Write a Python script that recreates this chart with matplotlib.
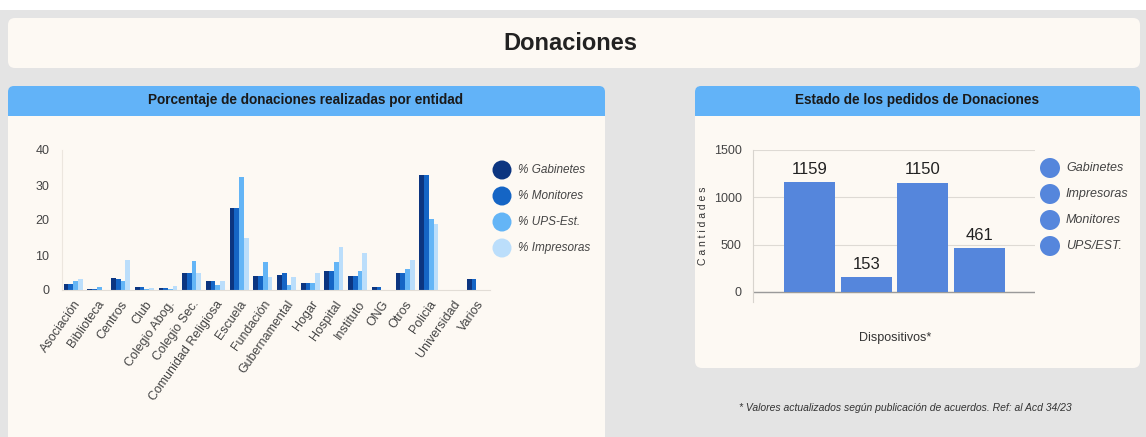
import numpy as np
import matplotlib
matplotlib.use("Agg")
import matplotlib.pyplot as plt
from matplotlib.patches import FancyBboxPatch, Rectangle, Circle

plt.rcParams['font.family'] = ['Liberation Sans Narrow', 'Liberation Sans', 'DejaVu Sans']

# porcentaje de donaciones por entidad
entidades = ["Asociación", "Biblioteca", "Centros", "Club", "Colegio Abog.", "Colegio Sec.",
             "Comunidad Religiosa", "Escuela", "Fundación", "Gubernamental", "Hogar",
             "Hospital", "Instituto", "ONG", "Otros", "Policia", "Universidad", "Varios"]
series_pct = ["% Gabinetes", "% Monitores", "% UPS-Est.", "% Impresoras"]
pct_gabinetes = [1.6, 0.3, 3.5, 1.0, 0.7, 5.0, 2.5, 23.5, 4.1, 4.4, 1.9, 5.3, 4.1, 1.0, 4.8, 32.8, 0.0, 3.1]
pct_monitores = [1.6, 0.3, 3.2, 1.0, 0.7, 5.0, 2.5, 23.5, 4.1, 4.8, 1.9, 5.3, 4.1, 1.0, 4.8, 33.0, 0.0, 3.1]
pct_ups = [2.6, 1.0, 2.6, 0.3, 0.3, 8.3, 1.5, 32.4, 7.9, 1.5, 1.9, 7.9, 5.3, 0.0, 6.0, 20.3, 0.0, 0.0]
pct_impresoras = [3.1, 0.0, 8.6, 0.5, 1.2, 5.0, 2.5, 14.9, 3.7, 3.7, 5.0, 12.3, 10.5, 0.0, 8.6, 19.0, 0.0, 0.0]
colores_pct = ["#0c3580", "#1565c5", "#64b5f6", "#bbdefb"]

# estado de los pedidos
dispositivos = ["Gabinetes", "Impresoras", "Monitores", "UPS/EST."]
cantidades = [1159, 153, 1150, 461]
color_pedidos = "#5586dc"

W, H = 1146, 437
GRIS = "#e4e4e4"
CREMA = "#fdf9f3"
AZUL = "#62b3f8"
TEXTO = "#444444"


def caja(x0, y0, x1, y1):
    return [x0 / W, 1 - y1 / H, (x1 - x0) / W, (y1 - y0) / H]


fig = plt.figure(figsize=(W / 100, H / 100), dpi=100)
fondo = fig.add_axes([0, 0, 1, 1])
fondo.set_xlim(0, W)
fondo.set_ylim(H, 0)
fondo.axis('off')

fondo.add_patch(Rectangle((0, 10), W, H, color=GRIS, lw=0))
fondo.add_patch(FancyBboxPatch((8, 18), 1132, 50, boxstyle="round,pad=0,rounding_size=7",
                               fc=CREMA, ec="none"))
fondo.text(570, 43, "Donaciones", ha='center', va='center', fontsize=17,
           fontweight='bold', color="#222222")

# panel izquierdo
fondo.add_patch(FancyBboxPatch((8, 86), 597, 45, boxstyle="round,pad=0,rounding_size=6",
                               fc=AZUL, ec="none"))
fondo.add_patch(Rectangle((8, 116), 597, H, fc=CREMA, ec="none"))
fondo.text(306, 100, "Porcentaje de donaciones realizadas por entidad", ha='center',
           va='center', fontsize=9.8, fontweight='bold', color="#1a1a1a")

# panel derecho
fondo.add_patch(FancyBboxPatch((695, 86), 445, 282, boxstyle="round,pad=0,rounding_size=7",
                               fc=CREMA, ec="none"))
fondo.add_patch(FancyBboxPatch((695, 86), 445, 45, boxstyle="round,pad=0,rounding_size=6",
                               fc=AZUL, ec="none"))
fondo.add_patch(Rectangle((695, 116), 445, 20, fc=CREMA, ec="none"))
fondo.text(917, 100, "Estado de los pedidos de Donaciones", ha='center', va='center',
           fontsize=9.8, fontweight='bold', color="#1a1a1a")

fondo.text(905, 408, "* Valores actualizados según publicación de acuerdos. Ref: al Acd 34/23",
           ha='center', va='center', fontsize=7.5, style='italic', color="#333333")

# barras agrupadas
ax1 = fig.add_axes(caja(62, 150, 490, 290))
ax1.set_facecolor('none')
x = np.arange(len(entidades))
ancho = 0.2
valores = [pct_gabinetes, pct_monitores, pct_ups, pct_impresoras]
for i, (serie, col) in enumerate(zip(valores, colores_pct)):
    ax1.bar(x + (i - 1.5) * ancho, serie, ancho, color=col, lw=0)
ax1.set_xlim(-0.47, 17.58)
ax1.set_ylim(0, 40)
ax1.set_yticks([0, 10, 20, 30, 40])
ax1.set_xticks(x)
ax1.set_xticklabels(entidades, rotation=55, ha='right', rotation_mode='anchor')
ax1.tick_params(axis='both', length=0, colors=TEXTO, labelsize=9)
ax1.tick_params(axis='x', pad=6)
ax1.tick_params(axis='y', pad=9, labelsize=9)
for s in ['top', 'right']:
    ax1.spines[s].set_visible(False)
ax1.spines['left'].set_color("#ece6de")
ax1.spines['bottom'].set_color("#e2ddd6")

for i, (nombre, col) in enumerate(zip(series_pct, colores_pct)):
    yy = 170 + 26 * i
    fondo.add_patch(Circle((502, yy), 9.5, fc=col, ec="none"))
    fondo.text(518, yy, nombre, va='center', fontsize=8.5, style='italic', color=TEXTO)

# barras de pedidos
ax2 = fig.add_axes(caja(753, 150, 1035, 302))
ax2.set_facecolor('none')
pos = np.arange(len(dispositivos))
barras = ax2.bar(pos, cantidades, 0.9, color=color_pedidos, lw=0, zorder=3)
for b, v in zip(barras, cantidades):
    ax2.text(b.get_x() + b.get_width() / 2, v + 60, str(v), ha='center', va='bottom',
             fontsize=12, color="#222222")
ax2.set_xlim(-1.0, 3.98)
ax2.set_ylim(-106, 1500)
ax2.set_yticks([0, 500, 1000, 1500])
ax2.set_xticks([])
ax2.yaxis.grid(True, color="#dedad4", lw=0.8)
ax2.axhline(0, color="#9a9a9a", lw=1, zorder=2)
ax2.tick_params(axis='y', length=0, colors=TEXTO, labelsize=9, pad=8)
for s in ['top', 'right', 'bottom']:
    ax2.spines[s].set_visible(False)
ax2.spines['left'].set_color("#d8d4ce")
ax2.set_ylabel("C a n t i d a d e s", fontsize=7.5, color="#333333", labelpad=4)
fondo.text(895, 338, "Dispositivos*", ha='center', va='center', fontsize=9, color="#333333")

for i, nombre in enumerate(dispositivos):
    yy = 168 + 26 * i
    fondo.add_patch(Circle((1050, yy), 10, fc=color_pedidos, ec="none"))
    fondo.text(1066, yy, nombre, va='center', fontsize=9, style='italic', color=TEXTO)

fig.savefig("out.png", dpi=100)
